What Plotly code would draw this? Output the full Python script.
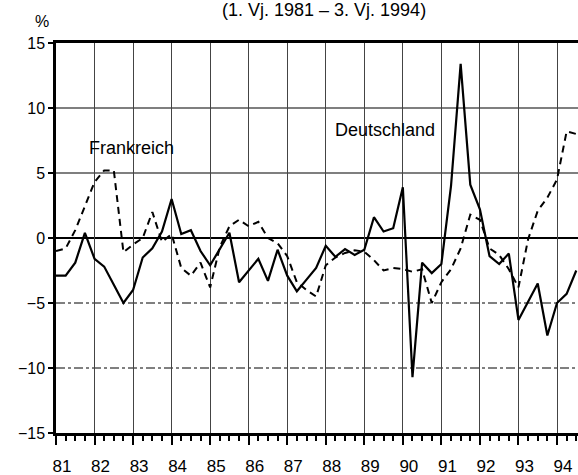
import plotly.graph_objects as go

# Quarterly data, 1. Vj. 1981 – 3. Vj. 1994
years = list(range(81, 95))
quarters = [y + q / 4 for y in years for q in range(4)][:55]

deutschland = [
    -2.9, -2.9, -1.9, 0.4,
    -1.6, -2.2, -3.6, -5.0,
    -4.0, -1.5, -0.8, 0.5,
    3.0, 0.3, 0.6, -1.0,
    -2.1, -0.8, 0.4, -3.4,
    -2.5, -1.6, -3.3, -0.9,
    -2.9, -4.1, -3.2, -2.3,
    -0.6, -1.45, -0.85, -1.3,
    -0.9, 1.6, 0.5, 0.75,
    3.9, -10.7, -1.9, -2.7,
    -2.0, 4.0, 13.4, 4.1,
    2.2, -1.4, -2.0, -1.2,
    -6.3, -4.9, -3.5, -7.5,
    -5.0, -4.3, -2.5,
]

frankreich = [
    -1.0, -0.8, 0.6, 2.5,
    4.3, 5.2, 5.2, -1.1,
    -0.5, 0.0, 2.0, -0.3,
    0.3, -2.3, -2.9, -1.9,
    -3.8, -0.7, 0.9, 1.4,
    0.9, 1.25, 0.0, -0.4,
    -1.4, -3.4, -4.0, -4.5,
    -2.1, -1.5, -1.15, -0.95,
    -1.05, -1.7, -2.5, -2.3,
    -2.4, -2.6, -2.4, -5.0,
    -3.4, -2.4, -0.8, 1.8,
    1.4, -0.8, -1.3, -2.4,
    -3.8, -0.1, 2.1, 3.1,
    4.5, 8.2, 8.0,
]

year_labels = [str(y) for y in years]
y_ticks = [-15, -10, -5, 0, 5, 10, 15]
solid_grid = [10, 5, 0]
dashdot_grid = [-5, -10]

FONT = "Liberation Sans, Arial, sans-serif"

fig = go.Figure()
fig.add_trace(go.Scatter(
    x=quarters, y=frankreich, mode="lines", name="Frankreich",
    line=dict(color="black", width=2, dash="7px,5px"),
))
fig.add_trace(go.Scatter(
    x=quarters, y=deutschland, mode="lines", name="Deutschland",
    line=dict(color="black", width=2.2),
))

shapes = []
for v in solid_grid:
    shapes.append(dict(type="line", xref="paper", x0=0, x1=1, yref="y", y0=v, y1=v,
                       line=dict(color="black", width=1.8 if v == 0 else 1.2), layer="below"))
for v in dashdot_grid:
    shapes.append(dict(type="line", xref="paper", x0=0, x1=1, yref="y", y0=v, y1=v,
                       line=dict(color="black", width=1, dash="dashdot"), layer="below"))

fig.update_layout(
    width=578, height=475,
    margin=dict(l=56, r=0, t=43, b=42),
    paper_bgcolor="white", plot_bgcolor="white",
    showlegend=False,
    font=dict(family=FONT, color="black", size=16),
    shapes=shapes,
    annotations=[
        dict(text="(1. Vj. 1981 – 3. Vj. 1994)", xref="paper", yref="paper",
             x=0.513, y=1.0847, xanchor="center", yanchor="middle",
             showarrow=False, font=dict(size=18)),
        dict(text="%", xref="paper", yref="paper", x=-0.027, y=1.054,
             xanchor="center", yanchor="middle", showarrow=False, font=dict(size=16)),
        dict(text="Frankreich", xref="x", yref="y", x=82.96, y=6.9,
             xanchor="center", yanchor="middle", showarrow=False, font=dict(size=18)),
        dict(text="Deutschland", xref="x", yref="y", x=89.54, y=8.3,
             xanchor="center", yanchor="middle", showarrow=False, font=dict(size=18)),
    ],
)

fig.update_xaxes(
    range=[81, 94.545], automargin=False,
    tickvals=years, ticktext=year_labels,
    ticks="outside", ticklen=9, tickwidth=2, tickcolor="black",
    ticklabelshift=6, ticklabelstandoff=7,
    tickfont=dict(size=17),
    minor=dict(dtick=0.25, tick0=81, ticks="outside", ticklen=5, tickwidth=1.5,
               tickcolor="black", showgrid=False),
    showgrid=True, gridcolor="#444", gridwidth=1,
    showline=True, linecolor="black", linewidth=2.5, mirror=True,
    zeroline=False,
)
fig.update_yaxes(
    range=[-15, 15], tickvals=y_ticks, automargin=False,
    ticks="outside", ticklen=5, tickwidth=1.5, tickcolor="black",
    tickfont=dict(size=16),
    showgrid=False, zeroline=False,
    showline=True, linecolor="black", linewidth=2.5,
)

fig.write_html(
    "out.html",
    config={"displayModeBar": False},
    post_script="document.body.style.margin='0';document.body.style.overflow='hidden';",
)
